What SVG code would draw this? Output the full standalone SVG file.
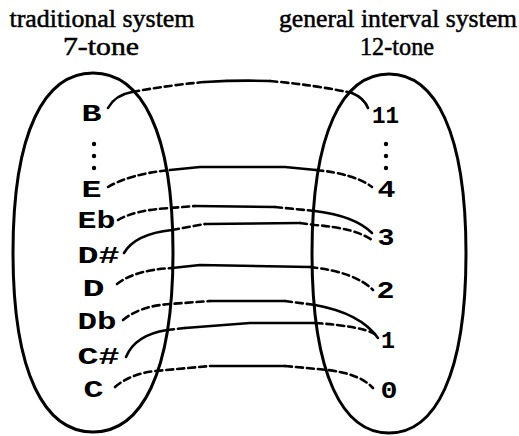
<svg xmlns="http://www.w3.org/2000/svg" width="519" height="436" viewBox="0 0 519 436">
<style>
.title{font-family:"Liberation Serif","Times New Roman",serif;font-size:25px;fill:#000;stroke:#000;stroke-width:0.5;text-anchor:middle}
.lbl{font-family:"Liberation Mono","Courier New",monospace;font-size:24px;font-weight:bold;fill:#000;text-anchor:middle}
.ell{fill:none;stroke:#000;stroke-width:3}
.sol{fill:none;stroke:#000;stroke-width:2.6;stroke-linecap:round;stroke-linejoin:round}
.dsh{fill:none;stroke:#000;stroke-width:2.6;stroke-linecap:round;stroke-dasharray:7,4}
.dot{fill:#000}
</style>
<rect width="519" height="436" fill="#fff"/>
<g id="title-left">
<text class="title" x="102" y="27" textLength="185" lengthAdjust="spacingAndGlyphs">traditional system</text>
<text class="title" x="101" y="55" textLength="76" lengthAdjust="spacingAndGlyphs">7-tone</text>
</g>
<g id="title-right">
<text class="title" x="398" y="27" textLength="238" lengthAdjust="spacingAndGlyphs">general interval system</text>
<text class="title" x="397" y="55" textLength="74" lengthAdjust="spacingAndGlyphs">12-tone</text>
</g>
<g id="set-traditional">
<path class="ell" d="M93,73 C141,73 173,130.5 173,252.5 C173,374.5 141,432 93,432 C45,432 13,374.5 13,252.5 C13,130.5 45,73 93,73 Z"/>
</g>
<g id="set-general">
<path class="ell" d="M389,74 C435,74 466,131.5 466,253.5 C466,375.5 435,433 389,433 C343,433 312,375.5 312,253.5 C312,131.5 343,74 389,74 Z"/>
</g>
<g id="node-B"><text class="lbl" x="91.5" y="121" textLength="20" lengthAdjust="spacingAndGlyphs">B</text></g>
<g id="dots-left"><circle class="dot" cx="94" cy="144" r="2.2"/><circle class="dot" cx="94" cy="156" r="2.2"/><circle class="dot" cx="94" cy="168" r="2.2"/></g>
<g id="node-E"><text class="lbl" x="91.5" y="197" textLength="20" lengthAdjust="spacingAndGlyphs">E</text></g>
<g id="node-Eb"><text class="lbl" x="96.5" y="228" textLength="38" lengthAdjust="spacingAndGlyphs">Eb</text></g>
<g id="node-Ds"><text class="lbl" x="98.5" y="263" textLength="42" lengthAdjust="spacingAndGlyphs">D#</text></g>
<g id="node-D"><text class="lbl" x="93.5" y="296" textLength="22" lengthAdjust="spacingAndGlyphs">D</text></g>
<g id="node-Db"><text class="lbl" x="97" y="329" textLength="39" lengthAdjust="spacingAndGlyphs">Db</text></g>
<g id="node-Cs"><text class="lbl" x="98.5" y="364" textLength="42" lengthAdjust="spacingAndGlyphs">C#</text></g>
<g id="node-C"><text class="lbl" x="93.5" y="397" textLength="20" lengthAdjust="spacingAndGlyphs">C</text></g>
<g id="node-11"><text class="lbl" x="385.5" y="123" textLength="27" lengthAdjust="spacingAndGlyphs">11</text></g>
<g id="dots-right"><circle class="dot" cx="386" cy="144" r="2.2"/><circle class="dot" cx="386" cy="156" r="2.2"/><circle class="dot" cx="386" cy="168" r="2.2"/></g>
<g id="node-4"><text class="lbl" x="386.5" y="197" textLength="18" lengthAdjust="spacingAndGlyphs">4</text></g>
<g id="node-3"><text class="lbl" x="386" y="245" textLength="17" lengthAdjust="spacingAndGlyphs">3</text></g>
<g id="node-2"><text class="lbl" x="385.5" y="298" textLength="18" lengthAdjust="spacingAndGlyphs">2</text></g>
<g id="node-1"><text class="lbl" x="388" y="348" textLength="14" lengthAdjust="spacingAndGlyphs">1</text></g>
<g id="node-0"><text class="lbl" x="389" y="398" textLength="17" lengthAdjust="spacingAndGlyphs">0</text></g>
<g id="connectors">
<g id="B-11">
<path class="sol" d="M108,108 Q115,95 132,92"/>
<path class="dsh" d="M132,92 Q170,85 205,82"/>
<path class="sol" d="M205,82 Q238,80 270,81"/>
<path class="dsh" d="M270,81 Q315,85 352,93"/>
<path class="sol" d="M352,93 Q364,98 368,108"/>
</g>
<g id="E-4">
<path class="dsh" d="M108,187 Q130,174 170,170"/>
<path class="sol" d="M170,170 L200,167 L285,167 L316,170"/>
<path class="dsh" d="M316,170 Q355,174 372,187"/>
</g>
<g id="Eb-3">
<path class="dsh" d="M118,220 Q135,210 170,208 L195,206"/>
<path class="sol" d="M195,206 L275,207"/>
<path class="dsh" d="M275,207 L315,211"/>
<path class="sol" d="M315,211 Q355,216 372,233"/>
</g>
<g id="Ds-3">
<path class="sol" d="M124,253 Q135,234 172,230"/>
<path class="dsh" d="M172,230 L205,224"/>
<path class="sol" d="M205,224 L300,223"/>
<path class="dsh" d="M300,223 L315,225 Q355,228 372,240"/>
</g>
<g id="D-2">
<path class="dsh" d="M117,284 Q135,270 172,268"/>
<path class="sol" d="M172,268 L200,265 L310,267"/>
<path class="dsh" d="M310,267 Q355,272 373,290"/>
</g>
<g id="Db-1">
<path class="dsh" d="M123,320 Q140,306 170,304 L210,301"/>
<path class="sol" d="M210,301 L285,301"/>
<path class="dsh" d="M285,301 L315,305"/>
<path class="sol" d="M315,305 Q360,313 378,338"/>
</g>
<g id="Cs-1">
<path class="sol" d="M126,357 Q135,335 167,330"/>
<path class="dsh" d="M167,330 L185,328"/>
<path class="sol" d="M185,328 L250,323 L315,323"/>
<path class="dsh" d="M315,323 Q360,326 375,334"/>
</g>
<g id="C-0">
<path class="dsh" d="M115,387 Q130,374 155,371 L210,366"/>
<path class="sol" d="M210,366 L285,366"/>
<path class="dsh" d="M285,366 L328,370 Q360,374 373,388"/>
</g>
</g>
</svg>
